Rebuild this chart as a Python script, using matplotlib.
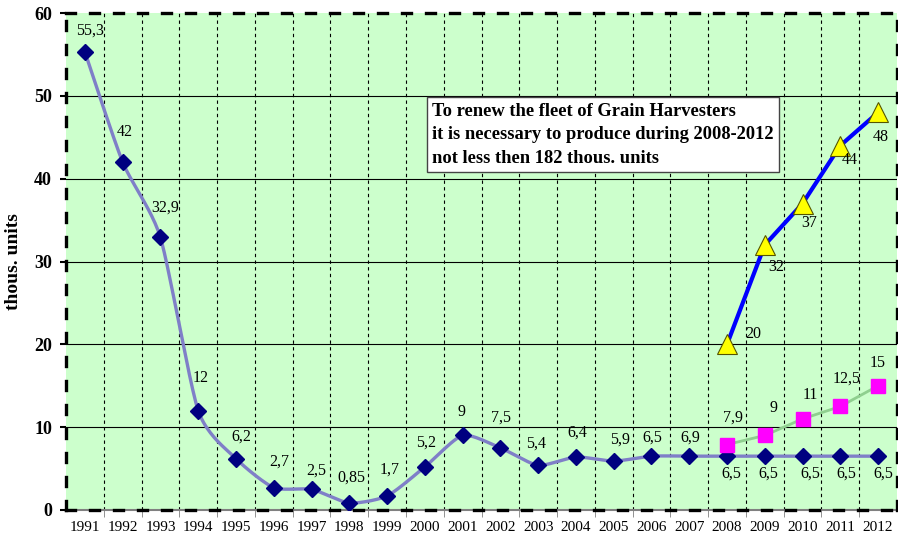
import numpy as np
import matplotlib.pyplot as plt

# data
years = [str(y) for y in range(1991, 2013)]
actual = [55.3, 42, 32.9, 12, 6.2, 2.7, 2.5, 0.85, 1.7, 5.2, 9, 7.5, 5.4,
          6.4, 5.9, 6.5, 6.5, 6.5, 6.5, 6.5, 6.5, 6.5]
actual_labels = ['55,3', '42', '32,9', '12', '6,2', '2,7', '2,5', '0,85', '1,7',
                 '5,2', '9', '7,5', '5,4', '6,4', '5,9', '6,5', '6,9',
                 '6,5', '6,5', '6,5', '6,5', '6,5']
plan_years = ['2008', '2009', '2010', '2011', '2012']
plan = [7.9, 9, 11, 12.5, 15]
plan_labels = ['7,9', '9', '11', '12,5', '15']
needed = [20, 32, 37, 44, 48]
needed_labels = ['20', '32', '37', '44', '48']

# label offsets in pixels (dx, dy)
off_actual = [(5, 21), (2, 30), (5, 30), (2, 33), (5, 22), (6, 26), (5, 19), (2, 25),
              (3, 26), (1, 24), (-1, 23), (1, 30), (-2, 22), (1, 24), (6, 21), (1, 19),
              (1, 19), (4, -17), (4, -17), (8, -17), (6, -17), (5, -17)]
off_plan = [(6, 27), (9, 27), (8, 24), (6, 28), (0, 23)]
off_needed = [(26, 10), (11, -22), (7, -19), (9, -14), (3, -25)]

SERIF = 'Liberation Serif'


def smooth(x, y, n=24, k=9.0):
    # smoothed line a bit like Excel does it (bezier through the points)
    p = np.column_stack([x, y]).astype(float)
    p = np.vstack([p[0], p, p[-1]])
    out = []
    t = np.linspace(0, 1, n)[:, None]
    for i in range(1, len(p) - 2):
        p0, p1, p2, p3 = p[i - 1], p[i], p[i + 1], p[i + 2]
        c1 = p1 + (p2 - p0) / k
        c2 = p2 - (p3 - p1) / k
        seg = ((1 - t) ** 3) * p1 + 3 * ((1 - t) ** 2) * t * c1 + 3 * (1 - t) * t ** 2 * c2 + t ** 3 * p2
        out.append(seg if i == 1 else seg[1:])
    s = np.vstack(out)
    return s[:, 0], s[:, 1]


def main():
    fig = plt.figure(figsize=(8.98, 5.47), dpi=100)
    ax = fig.add_axes([66 / 898, 37 / 547, 831 / 898, 497 / 547])
    ax.set_facecolor('#ccffcc')

    x = np.arange(len(years))
    xp = np.array([years.index(y) for y in plan_years])

    # grid
    for v in range(10, 60, 10):
        ax.axhline(v, color='black', lw=0.8, zorder=1)
    for b in np.arange(0.5, len(years) - 0.5, 1):
        ax.axvline(b, color='black', lw=0.8, ls=(0, (3, 3)), zorder=1)

    # main series
    sx, sy = smooth(x, actual)
    ax.plot(sx, sy, color='#7f7fc8', lw=2.4, zorder=3, solid_capstyle='round')
    ax.plot(x, actual, ls='none', marker='D', ms=8, color='#000080', zorder=5)

    # planned production
    ax.plot(xp, plan, color='#8fcf8f', lw=2, zorder=3)
    ax.plot(xp, plan, ls='none', marker='s', ms=10, color='#ff00ff', zorder=5)

    # needed
    ax.plot(xp, needed, color='#0000ff', lw=3, zorder=4)
    ax.plot(xp, needed, ls='none', marker='^', ms=14, markerfacecolor='#ffff00',
            markeredgecolor='#555500', markeredgewidth=0.8, zorder=5)

    def labels(xs, ys, txt, offs):
        for xi, yi, t, (dx, dy) in zip(xs, ys, txt, offs):
            ax.annotate(t, (xi, yi), xytext=(dx, dy), textcoords='offset pixels',
                        ha='center', va='center', fontsize=11.5, family=SERIF, zorder=6)

    labels(x, actual, actual_labels, off_actual)
    labels(xp, plan, plan_labels, off_plan)
    labels(xp, needed, needed_labels, off_needed)

    ax.set_xlim(-0.5, len(years) - 0.5)
    ax.set_ylim(0, 60)
    ax.set_yticks(range(0, 70, 10))
    ax.set_yticklabels([str(v) for v in range(0, 70, 10)], fontsize=13,
                       fontweight='bold', family=SERIF)
    ax.set_xticks(x)
    ax.set_xticklabels(years, fontsize=11, family=SERIF)
    ax.set_xticks(np.arange(0.5, len(years) - 0.5, 1), minor=True)
    ax.tick_params(axis='x', which='major', length=0, pad=8)
    ax.tick_params(axis='x', which='minor', length=5, color='#808080', direction='out')
    ax.tick_params(axis='y', length=4, width=1.5, pad=6)

    ax.axhline(0, color='#808080', lw=1.5, zorder=2, clip_on=False)
    for side in ['left', 'right', 'top', 'bottom']:
        sp = ax.spines[side]
        sp.set_linewidth(2.4)
        sp.set_linestyle((0, (2.7, 4.5)))
        sp.set_zorder(7)

    ax.set_ylabel('thous. units', fontsize=14, fontweight='bold', family=SERIF,
                  labelpad=9)

    ax.text(0.4405, 0.755, 'To renew the fleet of Grain Harvesters\n'
            'it is necessary to produce during 2008-2012\n'
            'not less then 182 thous. units',
            transform=ax.transAxes, ha='left', va='center', fontsize=13.3,
            fontweight='bold', family=SERIF, linespacing=1.5, zorder=8,
            bbox=dict(boxstyle='square,pad=0.3', facecolor='white',
                      edgecolor='#444444', lw=1))

    fig.savefig('out.png', dpi=100)


if __name__ == "__main__":
    main()
